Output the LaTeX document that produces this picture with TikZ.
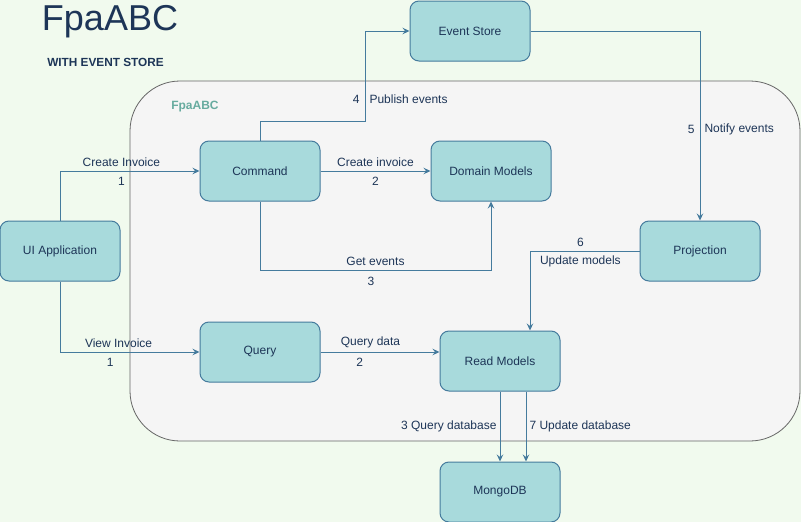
\documentclass[tikz,border=0pt]{standalone}
\usepackage{fontspec}
\setmainfont{Liberation Sans}
\usepackage{xcolor}
\usetikzlibrary{positioning, arrows.meta}
\definecolor{bggreen}{HTML}{F1FAEE}
\definecolor{groupfill}{HTML}{F5F5F5}
\definecolor{groupline}{HTML}{666666}
\definecolor{boxfill}{HTML}{A8DADC}
\definecolor{boxline}{HTML}{457B9D}
\definecolor{navy}{HTML}{1D3557}
\definecolor{teal}{HTML}{67AB9F}
\tikzset{
    >={Stealth[length=7pt, width=6.5pt, inset=2.5pt]}, % arrow heads like the drawing
    x=1pt, y=-1pt, % work in pixels, y going down
    every node/.style={font=\fontsize{12}{14}\selectfont, text=navy},
    box/.style={draw=boxline, fill=boxfill, line width=1pt, rounded corners=9pt,
                minimum width=120pt, minimum height=60pt}, % the teal boxes
    lbl/.style={inner sep=1pt}, % edge texts
}
\tikzstyle{flow} = [draw=boxline, line width=1pt, ->]

\begin{document}
\begin{tikzpicture}
    \useasboundingbox (0,0) rectangle (801,522);
    \fill[bggreen] (0,0) rectangle (801,522);
    % group
    \draw[groupline, fill=groupfill, line width=0.8pt, rounded corners=50pt] (130,81) rectangle (800,441);
    \node[font=\bfseries\fontsize{12}{14}\selectfont, text=teal] (grp) at (195,107) {FpaABC};
    % title
    \node[font=\fontsize{36}{40}\selectfont] (title) at (110,22) {FpaABC};
    \node[font=\bfseries\fontsize{11.8}{14}\selectfont] (sub) at (105.5,62) {WITH EVENT STORE};

    \node[box] (ui) at (60,251) {UI Application};
    \node[box] (cmd) at (260,171) {Command};
    \node[box] (dm) [right=110pt of cmd] {Domain Models};
    \node[box] (es) at (470,31) {Event Store};
    \node[box] (proj) at (700,251) {Projection};
    \node[box] (q) [below=120pt of cmd] {Query};
    \node[box] (rm) at (500,361) {Read Models};
    \node[box] (mdb) [below=70pt of rm] {MongoDB};

    \coordinate (pe) at (365,121);

    \draw[flow] (ui.north) |- (cmd.west)
        node[lbl, pos=0.72, above=3pt] {Create Invoice}
        node[lbl, pos=0.72, below=5pt] {1};
    \draw[flow] (ui.south) |- (q.west)
        node[lbl, pos=0.71, above=3pt] {View Invoice}
        node[lbl, pos=0.68, below=5pt] {1};
    \draw[flow] (cmd.east) -- (dm.west)
        node[lbl, midway, above=3pt] {Create invoice}
        node[lbl, midway, below=5pt] {2};
    \draw[flow] (cmd.north) |- (pe) |- (es.west)
        node[lbl, pos=0.12, left=4pt] {4}
        node[lbl, pos=0.12, right=3pt] {Publish events};
    \draw[flow] (es.east) -| (proj.north)
        node[lbl, pos=0.76, left=4pt] {5}
        node[lbl, pos=0.76, right=3pt] {Notify events};
    \draw[flow] (cmd.south) -- ++(0,69) -| (dm.south)
        node[lbl, pos=0.25, above=3pt] {Get events}
        node[lbl, pos=0.24, below=5pt] {3};
    \draw[flow] (proj.west) -| ([xshift=30pt]rm.north)
        node[lbl, pos=0.27, above=3pt] {6}
        node[lbl, pos=0.27, below=3pt] {Update models};
    \draw[flow] (q.east) -- (q.east -| rm.west)
        node[lbl, pos=0.42, above=3pt] {Query data}
        node[lbl, pos=0.33, below=5pt] {2};
    \draw[flow] (rm.south) -- (mdb.north)
        node[lbl, midway, left=2pt] {3 Query database};
    \draw[flow] ([xshift=26pt]rm.south) -- ([xshift=26pt]mdb.north)
        node[lbl, midway, right=2pt] {7 Update database};
\end{tikzpicture}
\end{document}
